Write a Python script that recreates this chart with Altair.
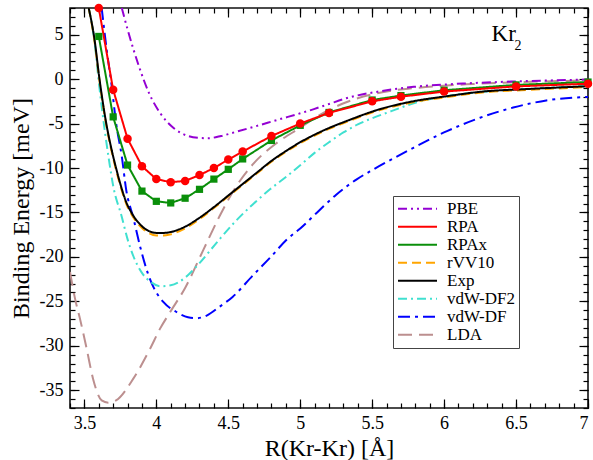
import altair as alt
import pandas as pd

# ---------------- data ----------------
pbe_r = [3.76, 3.80, 3.84, 3.88, 3.95, 4.03, 4.12, 4.22, 4.30, 4.36, 4.45, 4.55, 4.67, 4.86, 5.00, 5.09, 5.20, 5.32, 5.55, 5.79, 6.13, 6.48, 7.00]
pbe_e = [8.0, 5.6, 3.4, 1.4, -1.6, -3.9, -5.5, -6.4, -6.62, -6.65, -6.4, -5.95, -5.4, -4.5, -3.85, -3.4, -2.8, -2.15, -1.38, -0.87, -0.5, -0.27, -0.05]

rpa_r = [3.6, 3.7, 3.8, 3.9, 4.0, 4.1, 4.2, 4.3, 4.4, 4.5, 4.6, 4.8, 5.0, 5.2, 5.5, 5.7, 6.0, 6.5, 7.0]
rpa_e = [8.0, -1.2, -6.7, -9.8, -11.25, -11.6, -11.45, -10.8, -10.0, -9.05, -8.15, -6.4, -5.0, -3.8, -2.5, -1.98, -1.4, -0.82, -0.52]
rpax_e = [4.8, -4.25, -9.67, -12.6, -13.75, -13.93, -13.4, -12.4, -11.25, -10.15, -8.98, -6.9, -5.2, -3.75, -2.35, -1.85, -1.25, -0.65, -0.33]

exp_r = [3.53, 3.57, 3.605, 3.65, 3.69, 3.72, 3.75, 3.79, 3.83, 3.89, 3.95, 4.00, 4.05, 4.10, 4.20, 4.30, 4.40, 4.50, 4.60, 4.70, 4.80, 4.90, 5.00, 5.10, 5.20, 5.32, 5.55, 5.79, 6.02, 6.25, 6.60, 7.00]
exp_e = [8.0, 4.5, 0.0, -4.8, -8.0, -10.0, -11.8, -13.8, -15.1, -16.4, -17.1, -17.3, -17.3, -17.2, -16.6, -15.6, -14.4, -13.1, -11.8, -10.5, -9.2, -8.1, -7.1, -6.25, -5.5, -4.73, -3.4, -2.48, -1.92, -1.43, -1.1, -0.8]
rvv10_e = [8.0, 4.3, -0.2, -5.0, -8.2, -10.2, -12.0, -14.0, -15.3, -16.6, -17.35, -17.6, -17.6, -17.45, -16.8, -15.75, -14.5, -13.2, -11.9, -10.6, -9.3, -8.2, -7.2, -6.35, -5.6, -4.83, -3.5, -2.58, -2.02, -1.53, -1.2, -0.9]

df2_r = [3.53, 3.57, 3.60, 3.64, 3.67, 3.70, 3.76, 3.80, 3.84, 3.90, 3.96, 4.03, 4.10, 4.16, 4.23, 4.30, 4.44, 4.55, 4.67, 4.79, 4.91, 5.00, 5.10, 5.20, 5.30, 5.40, 5.50, 5.60, 5.70, 5.80, 6.00, 6.25, 6.60, 7.00]
df2_e = [8.0, 4.3, -0.3, -5.6, -9.0, -12.0, -15.5, -18.0, -19.9, -21.8, -22.8, -23.3, -23.2, -22.8, -21.9, -20.7, -18.0, -16.0, -14.1, -12.4, -10.9, -9.7, -8.3, -7.1, -6.0, -5.1, -4.4, -3.8, -3.2, -2.65, -1.95, -1.45, -1.07, -0.78]

df1_r = [3.62, 3.655, 3.69, 3.72, 3.76, 3.79, 3.84, 3.89, 3.94, 3.98, 4.05, 4.14, 4.22, 4.28, 4.35, 4.44, 4.53, 4.67, 4.79, 4.91, 5.00, 5.13, 5.25, 5.39, 5.51, 5.65, 5.79, 6.02, 6.25, 6.48, 6.71, 7.00]
df1_e = [8.0, 3.3, -0.8, -4.9, -8.7, -12.4, -15.6, -19.0, -21.8, -23.4, -25.1, -26.2, -26.8, -26.9, -26.6, -25.6, -24.5, -22.1, -20.1, -18.0, -16.8, -14.8, -13.0, -11.3, -10.15, -8.9, -7.7, -5.85, -4.35, -3.2, -2.4, -2.0]

lda_r = [3.40, 3.435, 3.47, 3.516, 3.56, 3.62, 3.666, 3.72, 3.84, 3.956, 4.025, 4.10, 4.20, 4.33, 4.44, 4.55, 4.67, 4.84, 5.00, 5.14, 5.32, 5.53, 5.80, 6.20, 6.60, 7.00]
lda_e = [-21.7, -24.7, -27.0, -30.35, -33.7, -36.15, -36.4, -36.15, -33.7, -30.35, -28.1, -26.1, -23.5, -19.1, -15.4, -12.2, -9.6, -7.15, -5.47, -4.0, -2.6, -1.6, -1.0, -0.55, -0.3, -0.15]

order = ["PBE", "RPA", "RPAx", "rVV10", "Exp", "vdW-DF2", "vdW-DF", "LDA"]
colors = ["#9400d3", "#ff0000", "#0a8f0a", "#ffa500", "#000000", "#40e0d0", "#0000ff", "#bc8f8f"]
dashes = [[9, 4, 2, 4, 2, 4], [1, 0], [1, 0], [9, 5], [1, 0], [9, 4, 2, 4], [12, 5, 3, 5], [14, 7]]

x_major = [3.5, 4, 4.5, 5, 5.5, 6, 6.5, 7]
y_major = [-35, -30, -25, -20, -15, -10, -5, 0, 5]
x_minor = [round(3.4 + 0.1 * i, 1) for i in range(37)]
y_minor = list(range(-37, 9))

# ---------------- build tables ----------------
rows = []
def add(name, rs, es):
    for r, e in zip(rs, es):
        rows.append({"series": name, "R": r, "E": e})

# drawing order (later on top)
add("LDA", lda_r, lda_e)
add("vdW-DF", df1_r, df1_e)
add("vdW-DF2", df2_r, df2_e)
add("rVV10", exp_r, rvv10_e)
add("Exp", exp_r, exp_e)
add("PBE", pbe_r, pbe_e)
add("RPAx", rpa_r, rpax_e)
add("RPA", rpa_r, rpa_e)
df = pd.DataFrame(rows)

smooth = df[~df["series"].isin(["RPA", "RPAx"])]
rpa_df = pd.DataFrame({"R": rpa_r, "E": rpa_e, "series": "RPA"})
rpax_df = pd.DataFrame({"R": rpa_r, "E": rpax_e, "series": "RPAx"})
pts = pd.concat([rpax_df, rpa_df])

W, H = 518, 400
FONT = "Liberation Serif, Times New Roman, Times, DejaVu Serif, serif"
xs = alt.Scale(domain=[3.4, 7], nice=False, zero=False)
ys = alt.Scale(domain=[-37, 8], nice=False, zero=False)

leg = alt.Legend(title=None, orient="none", legendX=323, legendY=188,
                 symbolType="stroke", symbolSize=1520, symbolStrokeWidth=2,
                 clipHeight=17.5,
                 labelFont=FONT, labelFontSize=17, labelColor="black",
                 labelOffset=9, padding=4, rowPadding=-1,
                 strokeColor="#444444", fillColor="white")

color_enc = alt.Color("series:N", scale=alt.Scale(domain=order, range=colors), legend=leg)
dash_enc = alt.StrokeDash("series:N", scale=alt.Scale(domain=order, range=dashes), legend=leg)

lines_smooth = alt.Chart(smooth).mark_line(strokeWidth=2, interpolate="monotone", clip=True).encode(
    x=alt.X("R:Q", scale=xs, axis=None),
    y=alt.Y("E:Q", scale=ys, axis=None),
    color=color_enc, strokeDash=dash_enc, detail="series:N")

lines_rpa = alt.Chart(pts).mark_line(strokeWidth=2, clip=True).encode(
    x=alt.X("R:Q", scale=xs, axis=None),
    y=alt.Y("E:Q", scale=ys, axis=None),
    color=color_enc, strokeDash=dash_enc, detail="series:N")

sq = alt.Chart(rpax_df).mark_point(shape="square", filled=True, size=52, opacity=1, color="#0a8f0a").encode(
    x=alt.X("R:Q", scale=xs, axis=None), y=alt.Y("E:Q", scale=ys, axis=None))
circ = alt.Chart(rpa_df).mark_point(shape="circle", filled=True, size=72, opacity=1, color="#ff0000").encode(
    x=alt.X("R:Q", scale=xs, axis=None), y=alt.Y("E:Q", scale=ys, axis=None))

# annotation "Kr2"
ann_main = pd.DataFrame({"R": [6.33], "E": [4.25], "t": ["Kr"]})
ann_sub = pd.DataFrame({"R": [6.49], "E": [3.32], "t": ["2"]})
kr = alt.Chart(ann_main).mark_text(font=FONT, fontSize=23, align="left", baseline="alphabetic", color="black").encode(
    x=alt.X("R:Q", scale=xs, axis=None), y=alt.Y("E:Q", scale=ys, axis=None), text="t:N")
kr2 = alt.Chart(ann_sub).mark_text(font=FONT, fontSize=14, align="left", baseline="alphabetic", color="black").encode(
    x=alt.X("R:Q", scale=xs, axis=None), y=alt.Y("E:Q", scale=ys, axis=None), text="t:N")

anchor = pd.DataFrame({"R": [5.0], "E": [0.0]})

def tick_layer(xorient, xoff, yorient, yoff, xv, yv, size):
    return alt.Chart(anchor).mark_point(opacity=0).encode(
        x=alt.X("R:Q", scale=xs, axis=alt.Axis(orient=xorient, offset=xoff, values=xv, tickSize=size,
                                               labels=False, domain=False, grid=False, title=None,
                                               tickColor="black", tickWidth=1.2)),
        y=alt.Y("E:Q", scale=ys, axis=alt.Axis(orient=yorient, offset=yoff, values=yv, tickSize=size,
                                               labels=False, domain=False, grid=False, title=None,
                                               tickColor="black", tickWidth=1.2)))

labels_layer = alt.Chart(anchor).mark_point(opacity=0).encode(
    x=alt.X("R:Q", scale=xs, axis=alt.Axis(orient="bottom", values=x_major, ticks=False, domain=False, grid=False,
                                           labelExpr="'' + datum.value", labelFont=FONT, labelFontSize=18,
                                           labelColor="black", labelPadding=6,
                                           title="R(Kr-Kr) [Å]", titleFont=FONT, titleFontSize=24,
                                           titleFontWeight="normal", titleColor="black", titlePadding=4)),
    y=alt.Y("E:Q", scale=ys, axis=alt.Axis(orient="left", values=y_major, ticks=False, domain=False, grid=False,
                                           labelExpr="'' + datum.value", labelFont=FONT, labelFontSize=18,
                                           labelColor="black", labelPadding=7,
                                           title="Binding Energy [meV]", titleFont=FONT, titleFontSize=24,
                                           titleFontWeight="normal", titleColor="black", titlePadding=6)))

layers = [
    labels_layer,
    tick_layer("top", -H, "right", -W, x_major, y_major, 9),
    tick_layer("top", -H, "right", -W, x_minor, y_minor, 5),
    tick_layer("bottom", -H, "left", -W, x_major, y_major, 9),
    tick_layer("bottom", -H, "left", -W, x_minor, y_minor, 5),
    lines_smooth, lines_rpa, sq, circ, kr, kr2,
]

chart = alt.layer(*layers).resolve_axis(x="independent", y="independent").properties(
    width=W, height=H,
    padding={"left": 70, "top": 8, "right": 5, "bottom": 52},
    autosize=alt.AutoSizeParams(type="none"),
    background="white",
).configure_view(stroke="#111111", strokeWidth=1.6)

chart.save("out.html", embed_options={"renderer": "svg", "actions": False})
